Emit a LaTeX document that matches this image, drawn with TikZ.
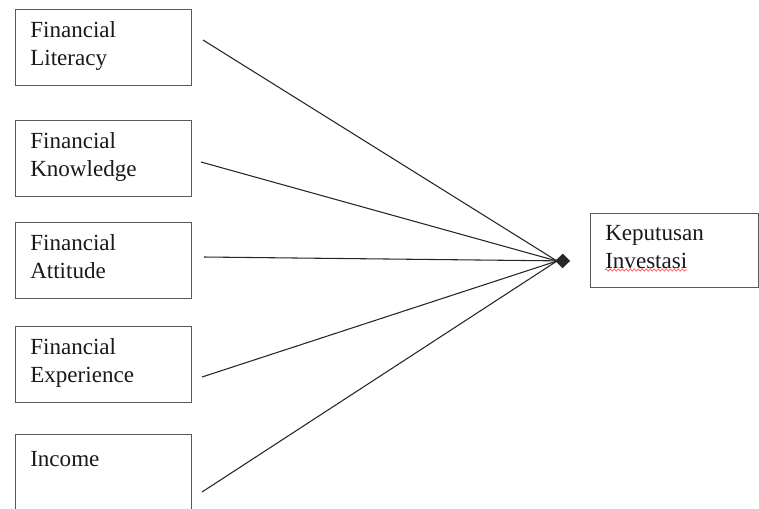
\documentclass[tikz,border=0pt]{standalone}
\usepackage{fontspec}
\setmainfont{Liberation Serif}
\usetikzlibrary{arrows.meta,decorations.pathmorphing}
\tikzstyle{factor}=[draw=black!65,line width=0.9pt,rectangle,minimum width=132pt,minimum height=57pt,inner sep=0pt,anchor=north west]
\tikzstyle{boxtext}=[anchor=north west,inner sep=0pt,align=left,text=black!90,font=\fontsize{17.3}{21}\selectfont]
\tikzstyle{edge}=[draw,line width=0.8pt,black!85]
\tikzstyle{tip edge}=[edge,-{Diamond[length=11pt,width=11pt]}]

\begin{document}
\begin{tikzpicture}[x=0.75pt,y=-0.75pt]
    \useasboundingbox (0,0) rectangle (759,508);

    % Boxes
    \foreach \pos/\name in {{(15,9)/b1}, {(15,120)/b2}, {(15,222)/b3}, {(15,326)/b4}, {(15,434)/b5}}
        \node[factor] (\name) at \pos {};
    \node[factor,minimum width=126pt,minimum height=55.5pt] (kd) at (590,213) {};

    % Texts
    \node[boxtext] (t1) at (30,21) {Financial\\Literacy};
    \node[boxtext] (t2) at (30,132) {Financial\\Knowledge};
    \node[boxtext] (t3) at (30,234) {Financial\\Attitude};
    \node[boxtext] (t4) at (30,338) {Financial\\Experience};
    \node[boxtext] (t5) at (30,451) {Income};
    \node[boxtext] (tk) at (605,225) {Keputusan\\Investasi};

    % Spell mark
    \draw[red!70,line width=0.5pt,decorate,decoration={snake,amplitude=0.8pt,segment length=3pt}]
        (605,270) -- (687,270);

    % Line ends
    \coordinate (s1) at (203,40);
    \coordinate (s2) at (201,162);
    \coordinate (s3) at (204,257);
    \coordinate (s4) at (202,377);
    \coordinate (s5) at (202,492);
    \coordinate (hub) at (570,261);
    \coordinate (back) at (557,261);

    % Links
    \foreach \source in {s1,s2,s4,s5}
        \path[edge] (\source) -- (back);
    \path[tip edge] (s3) -- (hub);

\end{tikzpicture}
\end{document}
